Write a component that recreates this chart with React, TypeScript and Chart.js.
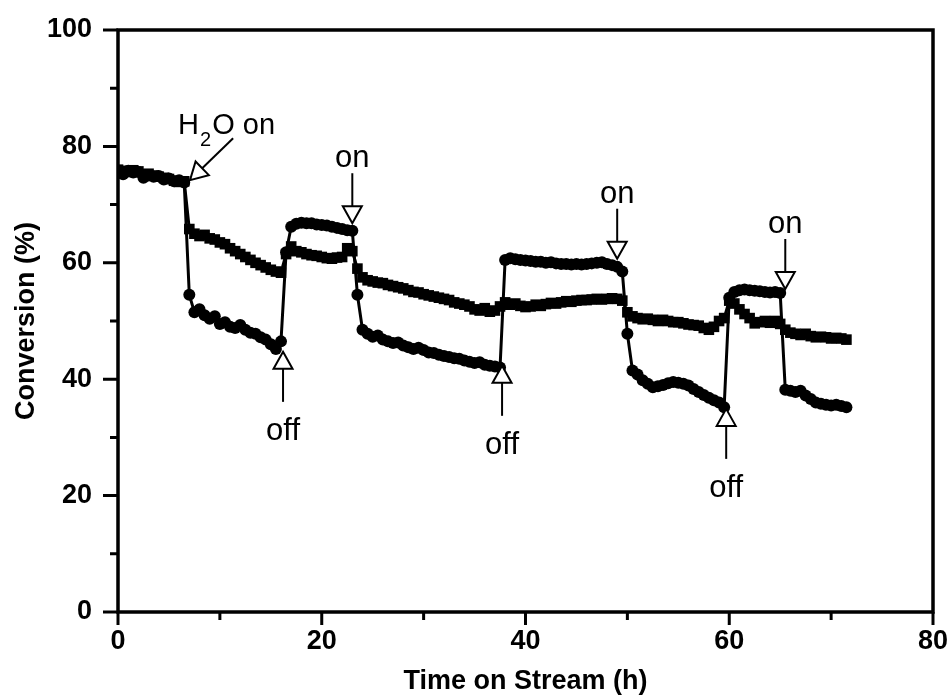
import React, { useEffect, useRef } from 'react';
import { Chart, registerables } from 'chart.js';

Chart.register(...registerables);

// Time on stream (h)
const hours = [
  0, 0.5, 1, 1.5, 2, 2.5, 3, 3.5, 4, 4.5,
  5, 5.5, 6, 6.5, 7, 7.5, 8, 8.5, 9, 9.5,
  10, 10.5, 11, 11.5, 12, 12.5, 13, 13.5, 14, 14.5,
  15, 15.5, 16, 16.5, 17, 17.5, 18, 18.5, 19, 19.5,
  20, 20.5, 21, 21.5, 22, 22.5, 23, 23.5, 24, 24.5,
  25, 25.5, 26, 26.5, 27, 27.5, 28, 28.5, 29, 29.5,
  30, 30.5, 31, 31.5, 32, 32.5, 33, 33.5, 34, 34.5,
  35, 35.5, 36, 36.5, 37, 37.5, 38, 38.5, 39, 39.5,
  40, 40.5, 41, 41.5, 42, 42.5, 43, 43.5, 44, 44.5,
  45, 45.5, 46, 46.5, 47, 47.5, 48, 48.5, 49, 49.5,
  50, 50.5, 51, 51.5, 52, 52.5, 53, 53.5, 54, 54.5,
  55, 55.5, 56, 56.5, 57, 57.5, 58, 58.5, 59, 59.5,
  60, 60.5, 61, 61.5, 62, 62.5, 63, 63.5, 64, 64.5,
  65, 65.5, 66, 66.5, 67, 67.5, 68, 68.5, 69, 69.5,
  70, 70.5, 71, 71.5,
];

// Conversion (%) - square markers
const squareSeries = [
  76.0, 75.8, 75.6, 75.9, 75.7, 75.2, 75.3, 75.0, 74.8, 74.6,
  74.4, 74.1, 73.9, 74.0, 65.8, 65.0, 64.6, 64.8, 64.2, 64.0,
  63.5, 63.2, 62.5, 62.0, 61.5, 61.0, 60.5, 60.0, 59.6, 59.2,
  58.8, 58.5, 58.3, 61.5, 62.8, 62.0, 61.8, 61.5, 61.3, 61.2,
  61.0, 60.8, 60.7, 60.9, 61.0, 62.5, 62.0, 59.0, 57.5, 57.0,
  56.8, 56.6, 56.5, 56.2, 56.0, 55.8, 55.6, 55.3, 55.0, 54.9,
  54.6, 54.4, 54.2, 54.0, 53.8, 53.6, 53.2, 53.0, 52.8, 52.5,
  52.0, 51.8, 52.2, 51.6, 51.8, 52.5, 53.2, 52.8, 53.0, 52.6,
  52.4, 52.5, 52.8, 52.6, 52.9, 53.1, 53.0, 53.2, 53.4, 53.3,
  53.5, 53.6, 53.6, 53.7, 53.8, 53.7, 53.8, 53.9, 53.8, 53.5,
  51.5, 50.8, 50.5, 50.3, 50.4, 50.2, 50.0, 50.2, 50.0, 49.8,
  49.8, 49.6, 49.4, 49.3, 49.2, 48.8, 48.5, 49.0, 50.0, 50.5,
  53.5, 53.0, 52.0, 51.2, 50.5, 49.6, 49.8, 50.0, 49.7, 50.0,
  49.5, 48.5, 48.0, 47.8, 47.6, 47.8, 47.4, 47.2, 47.3, 47.2,
  47.0, 47.1, 47.0, 46.8,
];

// Conversion (%) - circle markers
const circleSeries = [
  75.5, 75.2, 75.8, 75.5, 75.6, 74.6, 75.0, 74.8, 74.9, 74.3,
  74.5, 74.0, 74.2, 73.8, 54.5, 51.5, 52.0, 51.0, 50.4, 50.8,
  49.5, 49.8, 49.0, 48.8, 49.3, 48.5, 48.0, 47.8, 47.2, 46.8,
  46.0, 45.2, 46.5, 61.8, 66.2, 66.7, 66.9, 66.8, 66.8, 66.6,
  66.5, 66.4, 66.2, 66.0, 65.8, 65.6, 65.5, 54.5, 48.5, 47.8,
  47.3, 47.5, 46.8, 46.5, 46.2, 46.3, 45.8, 45.5, 45.2, 45.4,
  45.0, 44.6, 44.5, 44.2, 44.0, 43.8, 43.6, 43.5, 43.2, 43.0,
  42.8, 42.9, 42.5, 42.3, 42.2, 42.0, 60.5, 60.8, 60.6, 60.5,
  60.4, 60.3, 60.2, 60.2, 60.0, 60.1, 59.9, 59.8, 59.8, 59.7,
  59.8, 59.7, 59.8, 59.9, 60.0, 60.1, 59.8, 59.6, 59.3, 58.5,
  47.8, 41.5, 40.8, 39.8, 39.2, 38.6, 38.8, 39.0, 39.3, 39.5,
  39.4, 39.2, 38.9, 38.3, 37.8, 37.3, 36.8, 36.4, 36.0, 35.2,
  54.0, 55.0, 55.3, 55.4, 55.3, 55.2, 55.1, 55.0, 54.9, 55.0,
  54.8, 38.2, 38.0, 37.8, 38.0, 37.2, 36.6, 36.0, 35.8, 35.6,
  35.5, 35.6, 35.4, 35.2,
];

const xMajorTicks = [0, 20, 40, 60, 80];
const xMinorTicks = [10, 30, 50, 70];
const yMajorTicks = [0, 20, 40, 60, 80, 100];
const yMinorTicks = [10, 30, 50, 70, 90];

// Switch annotations (arrow tip in data coordinates)
const switchLabels = ['off', 'on', 'off', 'on', 'off', 'on'];
const switchHours = [16.2, 23.0, 37.7, 49.0, 59.7, 65.5];
const switchValues = [44.7, 66.8, 42.3, 60.7, 34.9, 55.5];

// "H2O on" annotation
const waterLabelPos = [5.9, 82.2];
const waterArrowTail = [11.3, 81.4];
const waterArrowTip = [7.07, 74.2];

const FONT = "'Liberation Sans', Arial, Helvetica, sans-serif";

function drawTriangle(ctx: CanvasRenderingContext2D, tx: number, ty: number, dx: number, dy: number, len: number, half: number) {
  const bx = tx - dx * len;
  const by = ty - dy * len;
  const px = -dy;
  const py = dx;
  ctx.beginPath();
  ctx.moveTo(tx, ty);
  ctx.lineTo(bx + px * half, by + py * half);
  ctx.lineTo(bx - px * half, by - py * half);
  ctx.closePath();
  ctx.fillStyle = '#fff';
  ctx.fill();
  ctx.stroke();
}

const framePlugin = {
  id: 'frameTicks',
  beforeDatasetsDraw(chart: any) {
    const { ctx, chartArea: a, scales } = chart;
    const x = scales.x;
    const y = scales.y;
    ctx.save();
    ctx.strokeStyle = '#000';
    ctx.lineWidth = 3.5;
    ctx.strokeRect(a.left, a.top, a.right - a.left, a.bottom - a.top);
    ctx.lineWidth = 3;
    ctx.beginPath();
    for (const v of xMajorTicks) {
      const px = x.getPixelForValue(v);
      ctx.moveTo(px, a.bottom);
      ctx.lineTo(px, a.bottom + 13);
    }
    for (const v of xMinorTicks) {
      const px = x.getPixelForValue(v);
      ctx.moveTo(px, a.bottom);
      ctx.lineTo(px, a.bottom + 8);
    }
    for (const v of yMajorTicks) {
      const py = y.getPixelForValue(v);
      ctx.moveTo(a.left, py);
      ctx.lineTo(a.left - 15, py);
    }
    for (const v of yMinorTicks) {
      const py = y.getPixelForValue(v);
      ctx.moveTo(a.left, py);
      ctx.lineTo(a.left - 8, py);
    }
    ctx.stroke();
    ctx.restore();
  },
  afterDatasetsDraw(chart: any) {
    const { ctx, scales } = chart;
    const x = scales.x;
    const y = scales.y;
    ctx.save();
    ctx.strokeStyle = '#000';
    ctx.fillStyle = '#000';
    ctx.lineWidth = 2;
    ctx.lineJoin = 'miter';

    for (let i = 0; i < switchLabels.length; i++) {
      const px = x.getPixelForValue(switchHours[i]);
      const py = y.getPixelForValue(switchValues[i]);
      const up = switchLabels[i] === 'off';
      const dir = up ? -1 : 1;
      const triLen = 17;
      ctx.beginPath();
      ctx.moveTo(px, py - dir * triLen);
      ctx.lineTo(px, py - dir * (triLen + 33));
      ctx.stroke();
      drawTriangle(ctx, px, py, 0, dir, triLen, 9.5);
      ctx.fillStyle = '#000';
      ctx.font = `31px ${FONT}`;
      ctx.textAlign = 'center';
      ctx.textBaseline = 'alphabetic';
      const ty = up ? py + 88 : py - 56;
      ctx.fillText(switchLabels[i], px, ty);
    }

    const tx = x.getPixelForValue(waterArrowTip[0]);
    const ty = y.getPixelForValue(waterArrowTip[1]);
    const sx = x.getPixelForValue(waterArrowTail[0]);
    const sy = y.getPixelForValue(waterArrowTail[1]);
    const L = Math.hypot(tx - sx, ty - sy);
    const ux = (tx - sx) / L;
    const uy = (ty - sy) / L;
    const triLen = 17;
    ctx.beginPath();
    ctx.moveTo(sx, sy);
    ctx.lineTo(tx - ux * triLen, ty - uy * triLen);
    ctx.stroke();
    drawTriangle(ctx, tx, ty, ux, uy, triLen, 9.5);

    const lx = x.getPixelForValue(waterLabelPos[0]);
    const ly = y.getPixelForValue(waterLabelPos[1]);
    ctx.fillStyle = '#000';
    ctx.textAlign = 'left';
    ctx.textBaseline = 'alphabetic';
    ctx.font = `29px ${FONT}`;
    let cx = lx;
    ctx.fillText('H', cx, ly);
    cx += ctx.measureText('H').width + 1;
    ctx.font = `20px ${FONT}`;
    ctx.fillText('2', cx, ly + 12);
    cx += ctx.measureText('2').width + 1;
    ctx.font = `29px ${FONT}`;
    ctx.fillText('O on', cx, ly);
    ctx.restore();
  },
};

export default function App() {
  const canvasRef = useRef<HTMLCanvasElement | null>(null);

  useEffect(() => {
    const canvas = canvasRef.current;
    if (!canvas) return;
    const squarePoints = hours.map((h, i) => ({ x: h, y: squareSeries[i] }));
    const circlePoints = hours.map((h, i) => ({ x: h, y: circleSeries[i] }));

    const chart = new Chart(canvas, {
      type: 'line',
      data: {
        datasets: [
          {
            label: 'squares',
            data: squarePoints,
            borderColor: '#000',
            borderWidth: 3,
            backgroundColor: '#000',
            pointStyle: 'rect',
            pointRadius: 7.5,
            pointBorderWidth: 0,
            pointBackgroundColor: '#000',
            tension: 0,
          },
          {
            label: 'circles',
            data: circlePoints,
            borderColor: '#000',
            borderWidth: 3,
            backgroundColor: '#000',
            pointStyle: 'circle',
            pointRadius: 6,
            pointBorderWidth: 0,
            pointBackgroundColor: '#000',
            tension: 0,
          },
        ],
      },
      options: {
        responsive: false,
        animation: false,
        devicePixelRatio: 1,
        layout: { padding: { top: 30, right: 16, left: 0, bottom: 0 } },
        plugins: {
          legend: { display: false },
          tooltip: { enabled: false },
        },
        scales: {
          x: {
            type: 'linear',
            min: 0,
            max: 80,
            grid: { display: false, drawTicks: false },
            border: { display: false },
            ticks: {
              stepSize: 20,
              padding: 13,
              color: '#000',
              font: { family: FONT, size: 27, weight: 'bold' },
              maxRotation: 0,
            },
            title: {
              display: true,
              text: 'Time on Stream (h)',
              color: '#000',
              font: { family: FONT, size: 27, weight: 'bold' },
              padding: { top: 0, bottom: 0 },
            },
            afterFit: (scale: any) => {
              scale.height = 86;
              scale.paddingLeft = 0;
              scale.paddingRight = 0;
            },
          },
          y: {
            type: 'linear',
            min: 0,
            max: 100,
            grid: { display: false, drawTicks: false },
            border: { display: false },
            ticks: {
              stepSize: 20,
              padding: 26,
              color: '#000',
              font: { family: FONT, size: 27, weight: 'bold' },
            },
            title: {
              display: true,
              text: 'Conversion (%)',
              color: '#000',
              font: { family: FONT, size: 27, weight: 'bold' },
              padding: { top: 10, bottom: 0 },
            },
            afterFit: (scale: any) => {
              scale.width = 118;
              scale.paddingTop = 0;
              scale.paddingBottom = 0;
            },
          },
        },
      } as any,
      plugins: [framePlugin as any],
    });
    return () => chart.destroy();
  }, []);

  return (
    <div style={{ position: 'absolute', left: 0, top: 0, width: 949, height: 698, background: '#fff' }}>
      <canvas ref={canvasRef} width={949} height={698} style={{ display: 'block' }} />
    </div>
  );
}
